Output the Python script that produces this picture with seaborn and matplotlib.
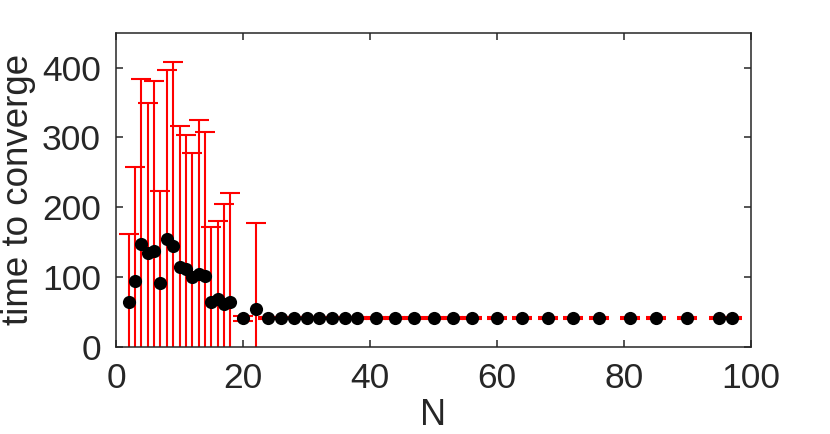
import numpy as np
import pandas as pd
import seaborn as sns
import matplotlib.pyplot as plt

# Values
n_small = [2, 3, 4, 5, 6, 7, 8, 9, 10, 11, 12, 13, 14, 15, 16, 17, 18, 20, 22]
time_small = [65, 94, 148, 134, 138, 91, 155, 144, 115, 111, 100, 105, 102,
              65, 69, 61, 65, 41, 54]
err_small = [97, 164, 236, 215, 243, 133, 241, 264, 201, 193, 178, 220, 206,
             107, 112, 143, 156, 4, 124]

n_large = [24, 26, 28, 30, 32, 34, 36, 38, 41, 44, 47, 50, 53, 56, 60, 64,
           68, 72, 76, 81, 85, 90, 95, 97]
time_large = [42] * len(n_large)
err_large = [1.5] * len(n_large)

df = pd.DataFrame({
    "N": n_small + n_large,
    "time": time_small + time_large,
    "err": err_small + err_large,
})

sns.set_theme(style="ticks")
plt.rcParams["font.family"] = ["Liberation Sans", "DejaVu Sans"]
dark = "#262626"

fig = plt.figure(figsize=(8.3, 4.34), dpi=100)
ax = fig.add_axes([0.1398, 0.2005, 0.765, 0.7242])

# Red error bars behind the black markers
ax.errorbar(df["N"], df["time"], yerr=df["err"], fmt="none", ecolor="red",
            elinewidth=1.5, capsize=7.2, capthick=1.5, zorder=2)
sns.scatterplot(data=df, x="N", y="time", color="black", s=90,
                edgecolor="black", linewidth=0, ax=ax, zorder=3)

ax.set_xlim(0, 100)
ax.set_ylim(0, 450)
ax.set_xticks([0, 20, 40, 60, 80, 100])
ax.set_yticks([0, 100, 200, 300, 400])
ax.set_xlabel("N", fontsize=26, color=dark, labelpad=2)
ax.set_ylabel("time to converge", fontsize=26.5, color=dark, labelpad=4)

ax.tick_params(direction="in", length=5, width=1.1, colors=dark,
               labelsize=25.5, top=True, right=True, pad=11)
for side in ax.spines.values():
    side.set_visible(True)
    side.set_color(dark)
    side.set_linewidth(1.1)

fig.savefig("out.png", dpi=100)
